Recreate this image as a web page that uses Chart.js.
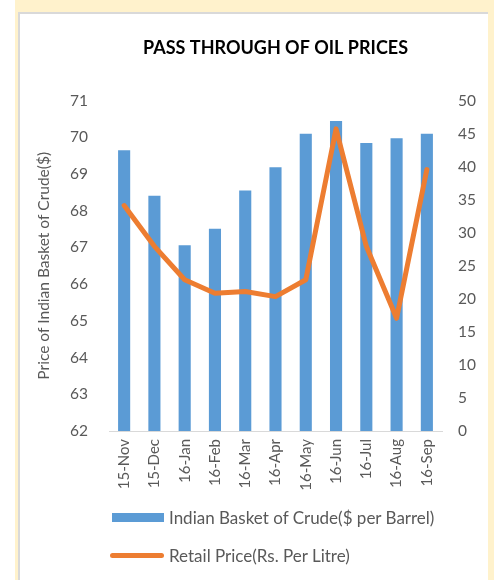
<!DOCTYPE html>
<html>
<head>
<meta charset="utf-8">
<script src="https://cdn.jsdelivr.net/npm/chart.js@4/dist/chart.umd.min.js"></script>
<style>
  body { margin: 0; background: #fff; width: 494px; height: 580px; overflow: hidden; font-family: Lato, "Open Sans", sans-serif; }
  #back { position: absolute; left: 15px; top: 0; width: 479px; height: 580px; background: #fff2cc; }
  #panel { position: absolute; left: 18px; top: 12px; width: 470px; height: 580px; background: #fff;
           border-top: 2px solid #d9d9d9; border-left: 2px solid #d9d9d9; box-sizing: border-box; }
  #wrap { position: absolute; left: 0; top: 0; width: 468px; height: 497px; }
  #legend { position: absolute; left: 92px; top: 484px; color: #595959; font-size: 17px; }
  .row { display: flex; align-items: center; height: 38px; }
  .box { width: 52px; height: 9px; margin-right: 5px; }
  .ln { width: 54px; height: 5px; border-radius: 3px; margin-right: 5px; margin-left: -2px; }
</style>
</head>
<body>
<div id="back"></div>
<div id="panel">
  <div id="wrap"><canvas id="chart"></canvas></div>
  <div id="legend"></div>
</div>
<script>
const months = ["15-Nov", "15-Dec", "16-Jan", "16-Feb", "16-Mar", "16-Apr", "16-May", "16-Jun", "16-Jul", "16-Aug", "16-Sep"];
const crudePrice = [42.5, 35.6, 28.1, 30.6, 36.4, 39.9, 45.0, 46.9, 43.6, 44.3, 45.0];
const retailPrice = [68.14, 67.03, 66.12, 65.75, 65.8, 65.66, 66.12, 70.23, 67.03, 65.07, 69.12];
const crudeLabel = "Indian Basket of Crude($ per Barrel)";
const retailLabel = "Retail Price(Rs. Per Litre)";
const chartTitle = "PASS THROUGH OF OIL PRICES";
const leftAxisTitle = "Price of Indian Basket of Crude($)";

const blue = "#5b9bd5";
const orange = "#ed7d31";
const grey = "#595959";
const tickFont = { family: "Lato", size: 15.5 };

const ctx = document.getElementById("chart").getContext("2d");
const chart = new Chart(ctx, {
    data: {
        labels: months,
        datasets: [
            {
                type: "line",
                label: retailLabel,
                data: retailPrice,
                yAxisID: "y",
                borderColor: orange,
                backgroundColor: orange,
                borderWidth: 5,
                pointRadius: 0,
                tension: 0,
                borderJoinStyle: "round",
                borderCapStyle: "round",
                order: 0
            },
            {
                type: "bar",
                label: crudeLabel,
                data: crudePrice,
                yAxisID: "y1",
                backgroundColor: blue,
                barPercentage: 0.4,
                categoryPercentage: 1,
                order: 1
            }
        ]
    },
    options: {
        responsive: true,
        maintainAspectRatio: false,
        animation: false,
        layout: { padding: { left: 15, right: 0, top: 0, bottom: 0 } },
        plugins: {
            legend: { display: false },
            tooltip: { enabled: false },
            title: {
                display: true,
                fullSize: false,
                text: chartTitle,
                color: "#000",
                font: { family: "Lato", size: 18, weight: "bold" },
                padding: { top: 23, bottom: 42 }
            }
        },
        scales: {
            x: {
                grid: { display: false, drawTicks: false },
                border: { color: "#d9d9d9", width: 1 },
                ticks: { color: grey, font: { family: "Lato", size: 15 }, minRotation: 90, maxRotation: 90, autoSkip: false, padding: 8 },
                afterFit: s => { s.height = 80; }
            },
            y: {
                position: "left",
                min: 62, max: 71,
                grid: { display: false, drawTicks: false },
                border: { display: false },
                ticks: { stepSize: 1, color: grey, font: tickFont, padding: 21 },
                title: { display: true, text: leftAxisTitle, color: grey, font: tickFont, padding: 0 },
                afterFit: s => { s.width = 74; }
            },
            y1: {
                position: "right",
                min: 0, max: 50,
                grid: { display: false, drawTicks: false },
                border: { display: false },
                ticks: { stepSize: 5, color: grey, font: tickFont, padding: 16 },
                afterFit: s => { s.width = 46; }
            }
        }
    }
});

// legend built from the datasets
const legend = document.getElementById("legend");
[chart.data.datasets[1], chart.data.datasets[0]].forEach(ds => {
    const row = document.createElement("div");
    row.className = "row";
    const sw = document.createElement("span");
    sw.className = ds.type === "bar" ? "box" : "ln";
    sw.style.background = ds.type === "bar" ? ds.backgroundColor : ds.borderColor;
    const txt = document.createElement("span");
    txt.textContent = ds.label;
    row.appendChild(sw);
    row.appendChild(txt);
    legend.appendChild(row);
});
</script>
</body>
</html>
